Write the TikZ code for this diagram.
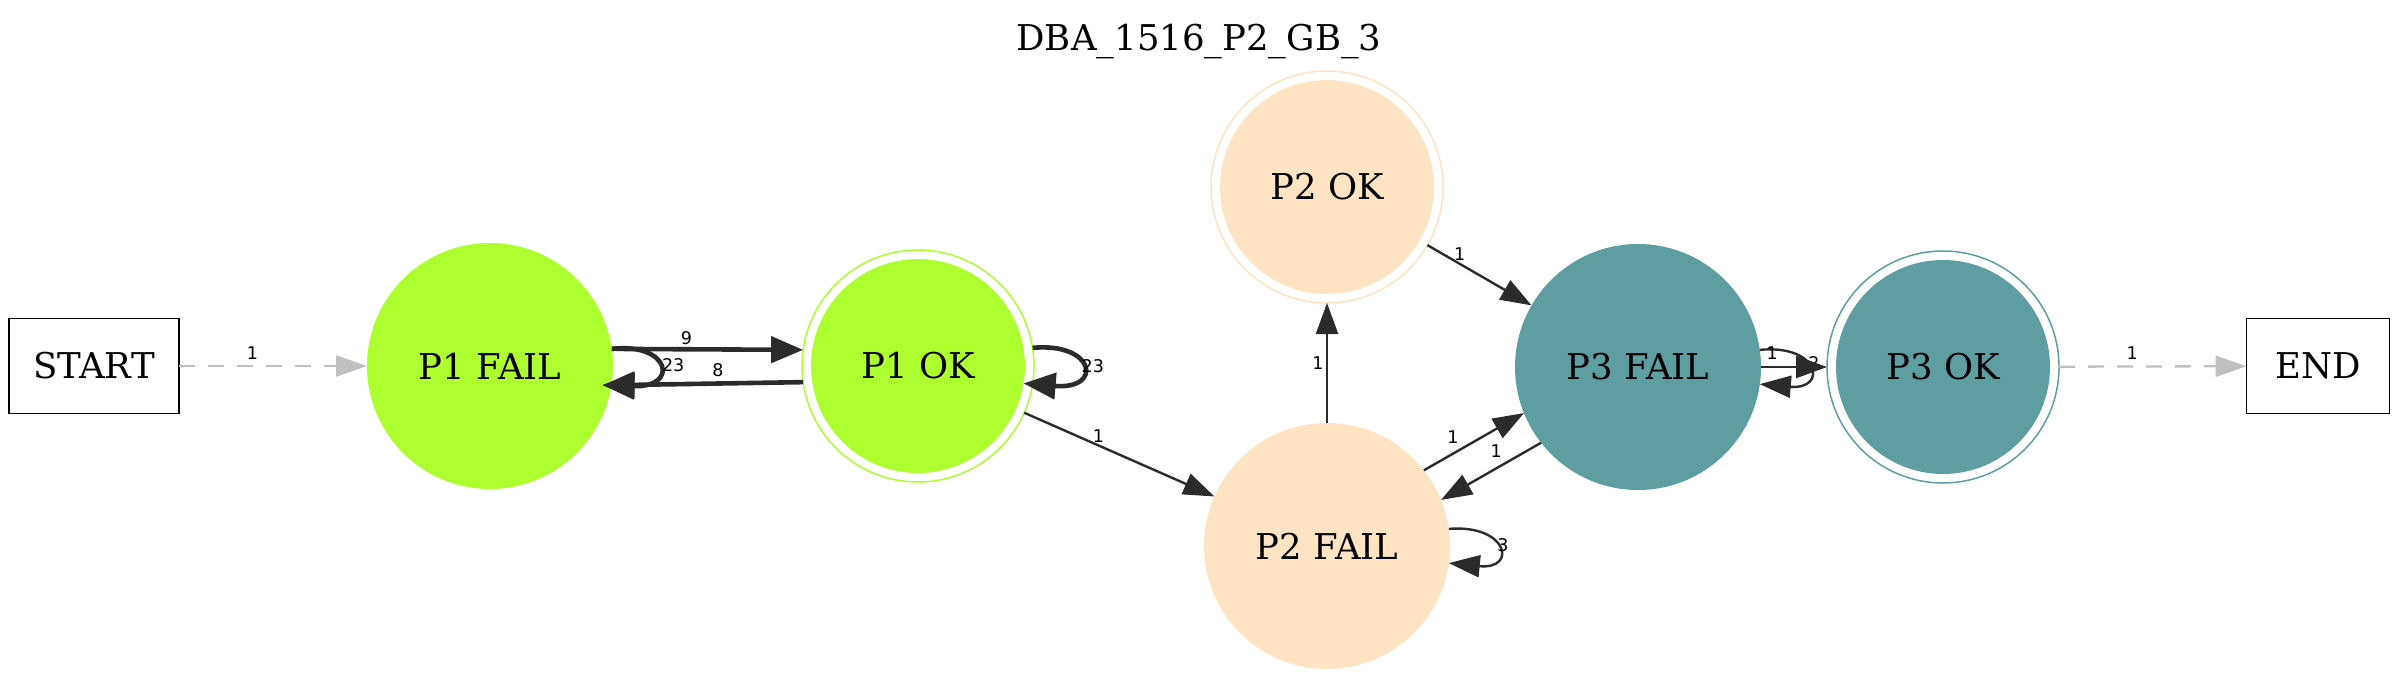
\documentclass[tikz,border=0pt]{standalone}
\usepackage{fontspec}
\setmainfont{DejaVu Serif}
\newfontfamily\labfont{DejaVu Sans}
\usetikzlibrary{arrows.meta,shapes.geometric}
\definecolor{pone}{HTML}{ADFF2F}
\definecolor{ptwo}{HTML}{FFE4C4}
\definecolor{pthree}{HTML}{5F9EA0}
\definecolor{edgec}{HTML}{2B2B2B}
\definecolor{ghost}{HTML}{C0C0C0}
\begin{document}
\begin{tikzpicture}[x=1pt,y=-1pt,
  every node/.style={inner sep=0pt, outer sep=0pt},
  txt/.style={font=\fontsize{35.5pt}{43pt}\selectfont},
  state/.style={circle, txt, minimum size=246pt},
  dstate/.style={circle, txt, minimum size=232pt, line width=1.5pt, draw=#1,
    path picture={\fill[#1] (path picture bounding box.center) circle[radius=107pt];}},
  box/.style={rectangle, draw=black, line width=1.8pt, txt, minimum width=170pt, minimum height=95pt},
  lbl/.style={font=\labfont\fontsize{17.5pt}{20pt}\selectfont, text=black},
  tr/.style={draw=edgec, line width=2.4pt, -{Triangle[length=31pt,width=22pt]}},
  heavy/.style={draw=edgec, line width=4.6pt, -{Triangle[length=32pt,width=26pt]}},
  ghosttr/.style={draw=ghost, line width=2.3pt, dash pattern=on 16pt off 13pt, -{Triangle[length=31pt,width=21pt]}}
]
\useasboundingbox (0,0) rectangle (2400,680);

\node[txt, anchor=base] (title) at (1199,50) {DBA\_1516\_P2\_GB\_3};

\node[box] (start) at (94,366) {START};
\node[box, minimum width=143pt] (end) at (2318,366) {END};

\node[state, fill=pone] (p1fail) at (490,366) {P1 FAIL};
\node[dstate=pone] (p1ok) at (918,366) {P1 OK};
\node[dstate=ptwo] (p2ok) at (1327,187) {P2 OK};
\node[state, fill=ptwo] (p2fail) at (1327,546) {P2 FAIL};
\node[state, fill=pthree] (p3fail) at (1638,367) {P3 FAIL};
\node[dstate=pthree] (p3ok) at (1943,367) {P3 OK};

% edges
\draw[ghosttr] (start) -- (p1fail) node[lbl, pos=.39, yshift=13pt] {1};

\draw[heavy] (p1fail.8) -- (p1ok.172) node[lbl, pos=.39, yshift=11pt] {9};
\draw[heavy, shorten >=-9pt] (p1ok.188) -- (p1fail.-9) node[lbl, pos=.445, yshift=13pt] {8};
\draw[heavy, shorten >=-9pt] (p1fail.8) .. controls (670,342) and (680,388) .. (p1fail.-9)
  node[lbl, pos=.5, xshift=14pt] {23};
\draw[heavy, shorten >=-9pt] (p1ok.9) .. controls (1095,342) and (1104,390) .. (p1ok.-9)
  node[lbl, pos=.5, xshift=10pt] {23};

\draw[tr] (p1ok) -- (p2fail) node[lbl, pos=.39, yshift=9pt] {1};
\draw[tr] (p2fail) -- (p2ok) node[lbl, pos=.5, xshift=-9pt] {1};
\draw[tr] (p2ok) -- (p3fail) node[lbl, pos=.31, yshift=9.5pt] {1};
\draw[tr] (p2fail.38) -- (p3fail.202) node[lbl, pos=.29, yshift=17pt] {1};
\draw[tr] (p3fail.218) -- (p2fail.22) node[lbl, pos=.45, yshift=17pt] {1};
\draw[tr] (p2fail.8) .. controls (1508,524) and (1518,570) .. (p2fail.-8)
  node[lbl, pos=.5, xshift=6pt, yshift=2pt] {3};

\draw[tr] (p3fail.8) .. controls (1820,344) and (1828,390) .. (p3fail.-8)
  node[lbl, pos=.5, xshift=6pt, yshift=4pt] {2};
\draw[tr] (p3fail) -- (p3ok) node[lbl, pos=.17, yshift=14pt] {1};

\draw[ghosttr] (p3ok) -- (end) node[lbl, pos=.39, yshift=13pt] {1};
\end{tikzpicture}
\end{document}
